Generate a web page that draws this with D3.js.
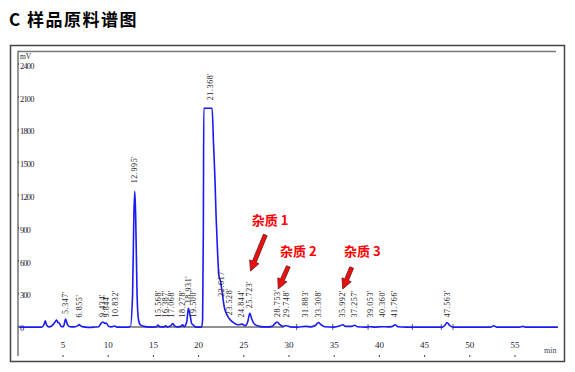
<!DOCTYPE html>
<html>
<head>
<meta charset="utf-8">
<script src="https://cdn.jsdelivr.net/npm/d3@7"></script>
<style>
  body { margin: 0; background: #fff; }
  svg { display: block; }
  .tick text { font-family: "Liberation Serif", serif; }
</style>
</head>
<body>
<div id="chart"></div>
<script>
// chromatogram trace: [time (min), signal (mV)]
const trace = [
  [0.2, 8], [2.7, 8], [2.95, 30], [3.1, 65], [3.25, 25], [3.5, 10], [3.8, 18], [4.1, 45],
  [4.35, 72], [4.5, 50], [4.65, 45], [4.85, 15], [5.1, 12], [5.35, 82], [5.55, 30], [5.8, 12],
  [6.3, 10], [6.7, 22], [6.85, 32], [7.0, 20], [7.3, 10], [7.8, 6], [8.5, 8], [9.0, 12],
  [9.2, 35], [9.45, 55], [9.7, 42], [9.85, 45], [10.05, 20], [10.4, 10], [10.8, 18], [11.0, 8],
  [11.5, 8], [12.0, 8], [12.5, 10], [12.75, 300], [12.9, 1050], [13.0, 1250], [13.1, 1000],
  [13.25, 300], [13.4, 80], [13.6, 30], [14.0, 15], [14.5, 10], [15.0, 8], [15.4, 12],
  [15.57, 28], [15.75, 12], [16.2, 10], [16.4, 20], [16.6, 10], [17.0, 22], [17.2, 40],
  [17.4, 20], [17.8, 10], [18.1, 15], [18.28, 30], [18.45, 12], [18.75, 60], [18.93, 180],
  [19.1, 120], [19.3, 40], [19.5, 25], [19.7, 10], [20.0, 8], [20.4, 10], [20.5, 80],
  [20.58, 900], [20.63, 2010], [21.55, 2010], [21.7, 1700], [21.87, 1350], [22.0, 1000],
  [22.15, 700], [22.3, 480], [22.5, 420], [22.7, 300], [22.9, 190], [23.2, 120], [23.5, 80],
  [23.9, 50], [24.4, 30], [24.85, 35], [25.2, 20], [25.5, 60], [25.72, 135], [25.95, 80],
  [26.3, 30], [26.8, 15], [27.5, 10], [28.2, 15], [28.5, 40], [28.75, 55], [29.0, 35],
  [29.4, 15], [29.75, 20], [30.2, 10], [31.0, 8], [31.9, 15], [32.5, 10], [33.0, 25],
  [33.3, 50], [33.6, 30], [34.0, 12], [35.0, 8], [35.7, 20], [36.0, 30], [36.3, 15],
  [37.0, 15], [37.3, 25], [37.6, 12], [38.5, 8], [39.05, 12], [39.5, 8], [40.36, 12],
  [41.0, 10], [41.5, 15], [41.8, 30], [42.1, 12], [43.0, 8], [47.0, 8], [47.3, 25],
  [47.55, 50], [47.8, 25], [48.2, 8], [52.4, 8], [52.7, 20], [53.0, 8], [55.6, 8],
  [55.9, 15], [56.2, 8], [59.8, 8]
];

// peak labels and the height (mV) each one sits above
const peakTimes = ["5.347'", "6.855'", "9.434'", "9.844'", "10.832'", "12.995'", "15.568'",
  "16.387'", "17.068'", "18.278'", "18.931'", "19.500'", "21.368'", "22.617'", "23.528'",
  "24.844'", "25.723'", "28.753'", "29.748'", "31.883'", "33.308'", "35.992'", "37.257'",
  "39.053'", "40.360'", "41.766'", "47.563'"];
const peakHeights = [82, 32, 55, 45, 18, 1250, 28, 20, 40, 30, 180, 25, 2010, 240, 70,
  35, 135, 55, 20, 15, 50, 30, 25, 12, 12, 30, 50];

// integration baseline and start/end marks
const baseSegments = [[12.6, 29.5]];
const intMarks = [30.9, 34.9, 38.8, 43.7, 46.9, 48.2];

const xTicks = [5, 10, 15, 20, 25, 30, 35, 40, 45, 50, 55];
const yTicks = [0, 300, 600, 900, 1200, 1500, 1800, 2100, 2400];

// impurity callouts: label, text anchor (t, mV), arrow tail and tip (t, mV)
const notes = ["杂质 1", "杂质 2", "杂质 3"];
const noteAt = [[25.93, 942], [29.06, 659], [36.14, 659]];
const arrowFrom = [[27.43, 851], [29.98, 563], [36.99, 553]];
const arrowTo = [[25.8, 521], [28.87, 357], [36.0, 357]];

const width = 575, height = 372;

const svg = d3.select('#chart')
  .append('svg')
  .attr('width', width)
  .attr('height', height);

svg.append('text')
  .attr('x', 9)
  .attr('y', 26)
  .attr('font-family', '"Noto Sans CJK SC", sans-serif')
  .attr('font-weight', 'bold')
  .attr('font-size', 17)
  .attr('letter-spacing', 1.5)
  .text('C 样品原料谱图');

// frames
svg.append('rect')
  .attr('x', 10.5).attr('y', 45.5)
  .attr('width', 554).attr('height', 316)
  .attr('fill', 'none').attr('stroke', '#444').attr('stroke-width', 1.5);
svg.append('path')
  .attr('d', 'M18,356V51.5H556')
  .attr('fill', 'none').attr('stroke', '#777').attr('stroke-width', 1.5);

const x = d3.scaleLinear().domain([0, 60]).range([17.3, 559.7]);
const y = d3.scaleLinear().domain([0, 2400]).range([328, 65.6]);

// y axis labels
const yAxis = svg.append('g')
  .attr('transform', 'translate(19,0)')
  .call(d3.axisRight(y).tickValues(yTicks).tickFormat(d3.format('d')).tickSize(0).tickPadding(1));
yAxis.select('.domain').remove();
yAxis.selectAll('text')
  .attr('font-size', 8.5)
  .attr('fill', '#223')
  .attr('textLength', d => String(d).length * 3.6);
yAxis.selectAll('.tick').append('rect')
  .attr('x', -1).attr('y', -3).attr('width', 1).attr('height', 2).attr('fill', '#555');

svg.append('text')
  .attr('x', 20).attr('y', 59)
  .attr('font-family', '"Liberation Serif", serif')
  .attr('font-size', 7.5).attr('fill', '#223')
  .text('mV');

// x axis labels
const xAxis = svg.append('g')
  .attr('transform', 'translate(0,342)')
  .call(d3.axisBottom(x).tickValues(xTicks).tickFormat(d3.format('d')).tickSize(0).tickPadding(0));
xAxis.select('.domain').remove();
xAxis.selectAll('text')
  .attr('font-size', 9)
  .attr('fill', '#223');
xAxis.selectAll('.tick').append('rect')
  .attr('x', -0.5).attr('y', 13).attr('width', 1).attr('height', 2).attr('fill', '#444');

svg.append('text')
  .attr('x', 544).attr('y', 353)
  .attr('font-family', '"Liberation Serif", serif')
  .attr('font-size', 8).attr('fill', '#445')
  .text('min');

// baseline segments and marks
svg.selectAll('.base')
  .data(baseSegments)
  .enter()
  .append('line')
  .attr('x1', d => x(d[0])).attr('x2', d => x(d[1]))
  .attr('y1', y(0) - 1).attr('y2', y(0) - 1)
  .attr('stroke', '#222').attr('stroke-width', 1);

svg.selectAll('.mark')
  .data(intMarks)
  .enter()
  .append('line')
  .attr('x1', d => x(d)).attr('x2', d => x(d))
  .attr('y1', y(0) - 4).attr('y2', y(0) + 2)
  .attr('stroke', '#333').attr('stroke-width', 0.8);

// trace
const line = d3.line()
  .x(d => x(d[0]))
  .y(d => y(d[1]))
  .curve(d3.curveMonotoneX);

svg.append('path')
  .datum(trace)
  .attr('d', line)
  .attr('fill', 'none')
  .attr('stroke', '#1a1af5')
  .attr('stroke-width', 1.6)
  .attr('stroke-linejoin', 'round');

// peak labels
svg.selectAll('.plabel')
  .data(peakTimes)
  .enter()
  .append('text')
  .attr('transform', (d, i) => {
    const t = parseFloat(d);
    const h = Math.max(peakHeights[i], 50);
    return `translate(${x(t) + 2.5},${y(h) - (h > 500 ? 8 : 5)}) rotate(-90)`;
  })
  .attr('font-family', '"Liberation Serif", serif')
  .attr('font-size', 8)
  .attr('fill', '#222')
  .attr('letter-spacing', 0.6)
  .text(d => d);

// impurity arrows
const arrows = svg.append('g');
arrowFrom.forEach((a, i) => {
  const x0 = x(a[0]), y0 = y(a[1]);
  const x1 = x(arrowTo[i][0]), y1 = y(arrowTo[i][1]);
  const ang = Math.atan2(y1 - y0, x1 - x0);
  const hl = 10, hw = 5, sw = 2;
  const bx = x1 - hl * Math.cos(ang), by = y1 - hl * Math.sin(ang);
  const px = -Math.sin(ang), py = Math.cos(ang);
  const pts = [
    [x0 + px * sw, y0 + py * sw],
    [bx + px * sw, by + py * sw],
    [bx + px * hw, by + py * hw],
    [x1, y1],
    [bx - px * hw, by - py * hw],
    [bx - px * sw, by - py * sw],
    [x0 - px * sw, y0 - py * sw]
  ];
  arrows.append('polygon')
    .attr('points', pts.map(p => p.join(',')).join(' '))
    .attr('fill', '#e81010')
    .attr('stroke', '#701010')
    .attr('stroke-width', 0.8);
});

svg.selectAll('.note')
  .data(notes)
  .enter()
  .append('text')
  .attr('x', (d, i) => x(noteAt[i][0]))
  .attr('y', (d, i) => y(noteAt[i][1]))
  .attr('font-family', '"Noto Sans CJK SC", sans-serif')
  .attr('font-weight', 'bold')
  .attr('font-size', 13)
  .attr('fill', '#ff0000')
  .text(d => d);
</script>
</body>
</html>
